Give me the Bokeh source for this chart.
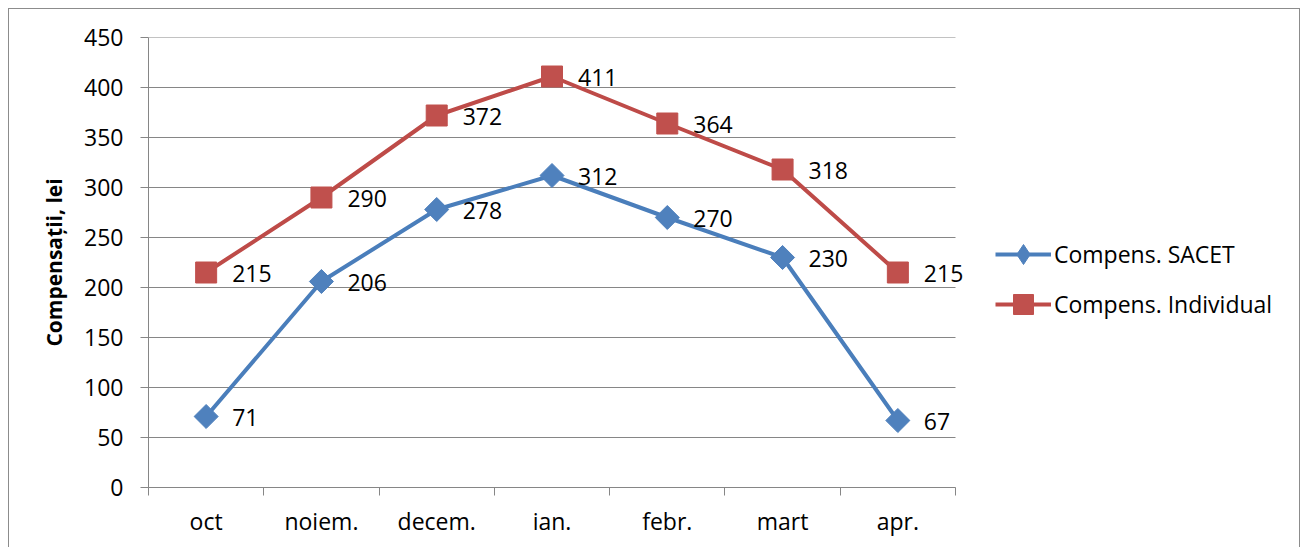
from bokeh.plotting import figure
from bokeh.models import FixedTicker, Legend, LegendItem, ColumnDataSource, Range1d
from bokeh.core.properties import value
from bokeh.embed import file_html
from bokeh.resources import INLINE
import math

months = ["oct", "noiem.", "decem.", "ian.", "febr.", "mart", "apr."]
sacet = [71, 206, 278, 312, 270, 230, 67]
individual = [215, 290, 372, 411, 364, 318, 215]
y_ticks = [0, 50, 100, 150, 200, 250, 300, 350, 400, 450]

FONT = "Open Sans"
GRID = "#868686"
BLUE_L, BLUE_M = "#4A7EBB", "#4F81BD"
RED_L, RED_M = "#BE4B48", "#C0504D"
n = len(months)
xs = [i + 0.5 for i in range(n)]

W, H = 1292, 539
LEFT, TOP, BOTTOM = 139, 28, 61
cat_px = 807 / n                       # pixel width of one category
x_end = (W - LEFT) / cat_px            # frame extends to the right edge (legend lives there)

p = figure(width=W, height=H, output_backend="svg", toolbar_location=None,
           x_range=Range1d(0, x_end), y_range=Range1d(0, 450),
           min_border_left=LEFT, min_border_right=0, min_border_top=TOP, min_border_bottom=BOTTOM)
p.styles = {"margin-left": "8px", "margin-top": "8px",
            "border-top": "1px solid #8c8c8c", "border-left": "1px solid #8c8c8c",
            "border-right": "1px solid #8c8c8c"}
p.outline_line_color = None
p.xgrid.visible = False
p.ygrid.visible = False

# horizontal gridlines limited to the category span
p.segment(x0=[0] * len(y_ticks), x1=[n] * len(y_ticks), y0=y_ticks, y1=y_ticks,
          line_color=GRID, line_width=1)

# x axis
p.xaxis.bounds = (0, n)
p.xaxis.ticker = FixedTicker(ticks=xs, minor_ticks=list(range(n + 1)))
p.xaxis.major_label_overrides = {x: m for x, m in zip(xs, months)}
p.xaxis.major_tick_out = 0
p.xaxis.major_tick_in = 0
p.xaxis.minor_tick_out = 8
p.xaxis.minor_tick_in = 0
p.xaxis.minor_tick_line_color = GRID
p.xaxis.axis_line_color = GRID
p.xaxis.major_label_text_font = FONT
p.xaxis.major_label_text_font_size = "23px"
p.xaxis.major_label_text_color = "#000000"
p.xaxis.major_label_standoff = 9

# y axis
p.yaxis.ticker = FixedTicker(ticks=y_ticks)
p.yaxis.major_tick_out = 8
p.yaxis.major_tick_in = 0
p.yaxis.minor_tick_line_color = None
p.yaxis.major_tick_line_color = GRID
p.yaxis.axis_line_color = GRID
p.yaxis.major_label_text_font = FONT
p.yaxis.major_label_text_font_size = "23px"
p.yaxis.major_label_text_color = "#000000"
p.yaxis.major_label_standoff = 17
p.yaxis.axis_label = "Compensații, lei"
p.yaxis.axis_label_text_font = FONT
p.yaxis.axis_label_text_font_size = "21px"
p.yaxis.axis_label_text_font_style = "bold"
p.yaxis.axis_label_text_color = "#000000"
p.yaxis.axis_label_standoff = 13

src = ColumnDataSource(dict(x=xs, sacet=sacet, ind=individual,
                            sacet_t=[str(v) for v in sacet], ind_t=[str(v) for v in individual]))

l1 = p.line("x", "sacet", source=src, line_color=BLUE_L, line_width=4)
m1 = p.scatter("x", "sacet", source=src, marker="square", angle=math.pi / 4, size=17,
               fill_color=BLUE_M, line_color=BLUE_M)
l2 = p.line("x", "ind", source=src, line_color=RED_L, line_width=4)
m2 = p.scatter("x", "ind", source=src, marker="square", size=21,
               fill_color=RED_M, line_color=RED_M)

# legend-only diamond (the legend draws markers unrotated); hidden in the plot itself
d1 = p.scatter("x", "sacet", source=src, marker="diamond", size=20,
               fill_color=BLUE_M, line_color=BLUE_M, visible=False)

for col in ["sacet", "ind"]:
    p.text("x", col, text=col + "_t", source=src, x_offset=26, y_offset=1,
           text_font=value(FONT), text_font_size="23px", text_color="#000000",
           text_baseline="middle", text_align="left")

legend = Legend(items=[LegendItem(label="Compens. SACET", renderers=[l1, d1]),
                       LegendItem(label="Compens. Individual", renderers=[l2, m2])],
                location=(847, 158), orientation="vertical",
                glyph_width=56, glyph_height=50, label_height=24, label_standoff=3, spacing=-1,
                padding=0, margin=0, border_line_color=None, background_fill_alpha=0,
                inactive_fill_alpha=0,
                label_text_font=FONT, label_text_font_size="23px", label_text_color="#000000")
p.add_layout(legend, "center")

open("out.html", "w").write(file_html(p, INLINE))
